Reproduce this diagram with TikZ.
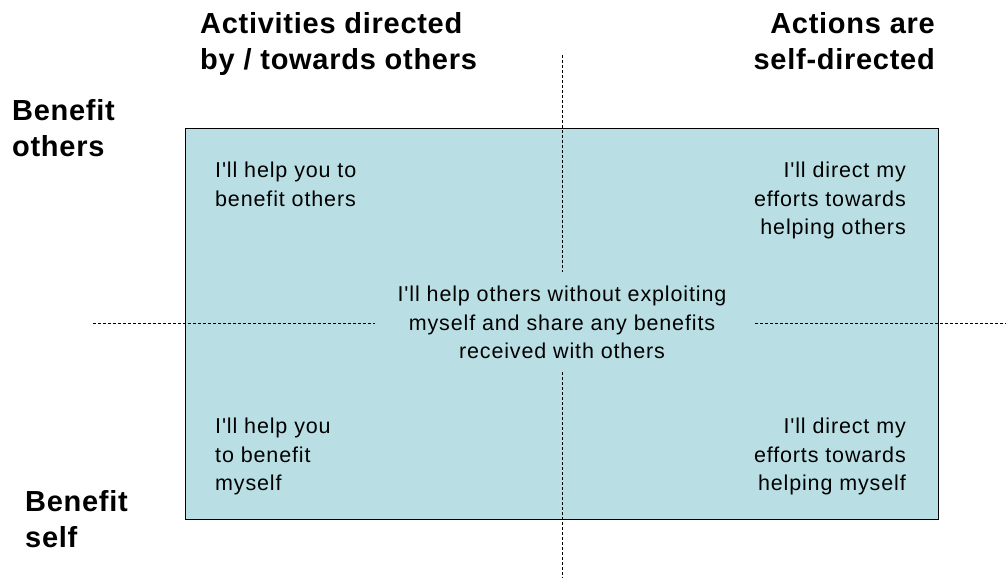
\documentclass[tikz,border=0pt]{standalone}
\usepackage{fontspec}
\setmainfont{Liberation Sans}
\newfontfamily\bodyfont[LetterSpace=4,Ligatures=TeXOff]{Liberation Sans}
\newfontfamily\headfont[LetterSpace=2.5,Ligatures=TeXOff]{Liberation Sans}
\definecolor{boxfill}{RGB}{185,223,228}
\begin{document}
\begin{tikzpicture}[x=1pt,y=-1pt,
  heading/.style={inner sep=0pt,font=\headfont\fontsize{29}{36}\selectfont\bfseries},
  body/.style={inner sep=0pt,font=\bodyfont\fontsize{21.5}{28.5}\selectfont},
  divider/.style={draw=black,line width=0.9pt,dash pattern=on 3pt off 2pt}]
\useasboundingbox (0,0) rectangle (1006,578);
\node[draw=black,line width=1.1pt,fill=boxfill,minimum width=753pt,minimum height=391pt,inner sep=0pt,anchor=north west] (box) at (185,128) {};
% dividers
\coordinate (vt) at (562,55);
\coordinate (vm1) at (562,272);
\coordinate (vm2) at (562,372);
\coordinate (vb) at (562,578);
\coordinate (hl) at (93,323);
\coordinate (hm1) at (375,323);
\coordinate (hm2) at (755,323);
\coordinate (hr) at (1006,323);
\draw[divider] (vt) -- (vm1);
\draw[divider] (vm2) -- (vb);
\draw[divider] (hl) -- (hm1);
\draw[divider] (hm2) -- (hr);
% headings
\node[heading,anchor=north west,align=left] (h1) at (200,12) {Activities directed\\by / towards others};
\node[heading,anchor=north east,align=right] (h2) at (935,12) {Actions are\\self-directed};
\node[heading,anchor=north west,align=left] (h3) at (12,99) {Benefit\\others};
\node[heading,anchor=north west,align=left] (h4) at (25,490) {Benefit\\self};
% quadrant texts
\node[body,anchor=north west,align=left] (q1) at (215,162) {I'll help you to\\benefit others};
\node[body,anchor=north east,align=right] (q2) at (906,162) {I'll direct my\\efforts towards\\helping others};
\node[body,anchor=north,align=center] (mid) at (562,286) {I'll help others without exploiting\\myself and share any benefits\\received with others};
\node[body,anchor=north west,align=left] (q3) at (215,418) {I'll help you\\to benefit\\myself};
\node[body,anchor=north east,align=right] (q4) at (906,418) {I'll direct my\\efforts towards\\helping myself};
\end{tikzpicture}
\end{document}
